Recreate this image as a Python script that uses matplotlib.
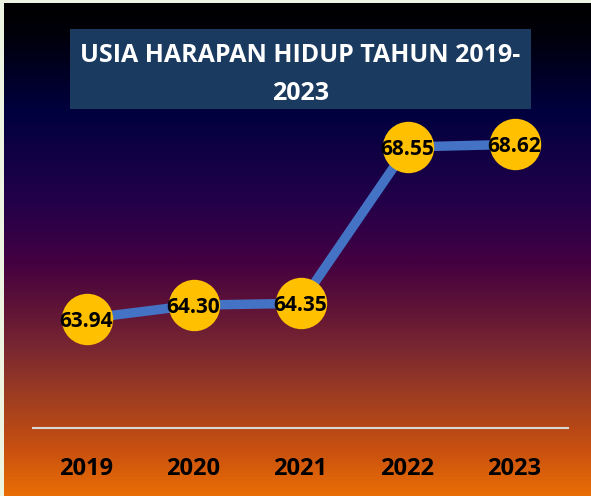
import matplotlib
matplotlib.use("Agg")
import matplotlib.pyplot as plt
import numpy as np
from matplotlib.colors import LinearSegmentedColormap
from matplotlib.patches import Rectangle

years = ["2019", "2020", "2021", "2022", "2023"]
values = [63.94, 64.30, 64.35, 68.55, 68.62]
title_lines = ["USIA HARAPAN HIDUP TAHUN 2019-", "2023"]

W, H = 591, 496
fig = plt.figure(figsize=(W / 100, H / 100), dpi=100)
fig.patch.set_facecolor("#EEF4E2")

# background gradient panel (image rows y=3..496)
bg = fig.add_axes([4 / W, 0, 587 / W, 493 / H])
bg.set_axis_off()
def f(y):
    return (y - 3) / 493.0
stops = [(0.0, "#000000"), (f(30), "#000008"), (f(110), "#00003F"),
         (f(200), "#22004A"), (f(260), "#420042"), (f(300), "#5A1038"),
         (f(350), "#7A2830"), (f(400), "#A03E20"), (f(450), "#C85010"),
         (1.0, "#EA6E05")]
cmap = LinearSegmentedColormap.from_list("bg", stops)
grad = np.linspace(0, 1, 512).reshape(-1, 1)
bg.imshow(grad, aspect="auto", cmap=cmap, extent=[0, 1, 0, 1], origin="upper")
bg.set_xlim(0, 1)
bg.set_ylim(0, 1)

# title box
fig.patches.append(Rectangle((70 / W, 1 - 109 / H), 461 / W, 80 / H,
                             transform=fig.transFigure, facecolor="#1B3A60",
                             edgecolor="none", zorder=2))
for line, yc in zip(title_lines, [52, 90]):
    fig.text(300.5 / W, 1 - yc / H, line, ha="center", va="center_baseline",
             color="white", fontsize=18, fontweight="bold", family="Open Sans",
             zorder=3)

# plot area
ax = fig.add_axes([33 / W, 1 - 428 / H, 535 / W, 335 / H])
ax.set_facecolor("none")
x = np.arange(len(years))
ax.plot(x, values, color="#4472C4", lw=6.8, solid_capstyle="round", zorder=2)
ax.plot(x, values, "o", ms=37, color="#FFC000", mec="none", zorder=3)
for xi, v in zip(x, values):
    ax.text(xi, v, f"{v:.2f}", ha="center", va="center_baseline", fontsize=15,
            fontweight="bold", family="Open Sans", color="black", zorder=4)
ax.set_xlim(-0.5, len(years) - 0.5)
ax.set_ylim(61, 70)
for s in ["top", "right", "left"]:
    ax.spines[s].set_visible(False)
ax.spines["bottom"].set_color("#D9D9D9")
ax.spines["bottom"].set_linewidth(1.5)
ax.set_yticks([])
ax.set_xticks(x)
ax.set_xticklabels(years, fontsize=17, fontweight="bold", family="Open Sans")
ax.tick_params(axis="x", length=0, pad=21)

fig.savefig("out.png", dpi=100)
